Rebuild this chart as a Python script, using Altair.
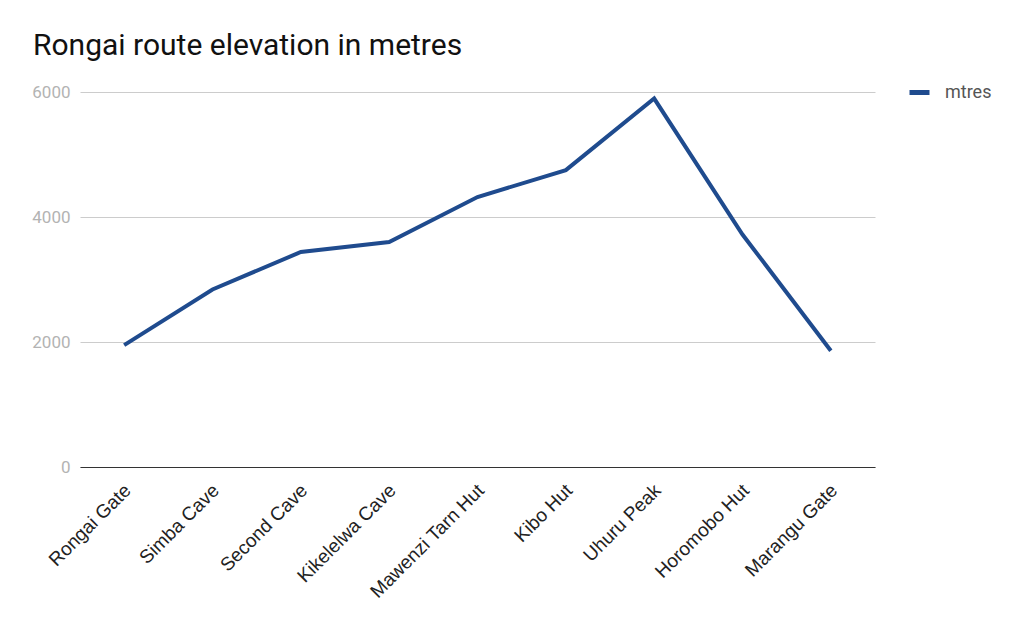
import altair as alt
import pandas as pd

stops = ["Rongai Gate", "Simba Cave", "Second Cave", "Kikelelwa Cave",
         "Mawenzi Tarn Hut", "Kibo Hut", "Uhuru Peak", "Horomobo Hut", "Marangu Gate"]
metres = [1950, 2840, 3440, 3600, 4320, 4750, 5895, 3720, 1860]
series = ["mtres"] * len(stops)

df = pd.DataFrame({"stop": stops, "metres": metres, "series": series})

line = alt.Chart(df).mark_line(strokeWidth=4, strokeCap="butt", strokeJoin="miter").encode(
    x=alt.X("stop:N", sort=stops, title=None,
            scale=alt.Scale(type="point", padding=0.5),
            axis=alt.Axis(labelAngle=-45, labelAlign="right", labelBaseline="middle",
                          labelFont="Liberation Sans", labelFontSize=19, labelColor="#222222",
                          labelPadding=20, labelOffset=3, ticks=False, domain=True,
                          domainColor="#333333", domainWidth=1, grid=False)),
    y=alt.Y("metres:Q", title=None,
            scale=alt.Scale(domain=[0, 6000], nice=False),
            axis=alt.Axis(values=[0, 2000, 4000, 6000], format="d", labelFont="Roboto",
                          labelFontSize=17, labelColor="#b3b3b3", labelPadding=10, ticks=False,
                          domain=False, grid=True, gridColor="#cccccc", gridWidth=1)),
    color=alt.Color("series:N", title=None,
                    scale=alt.Scale(range=["#1f4b8e"]),
                    legend=alt.Legend(orient="none", legendX=827, legendY=-12,
                                      symbolType="stroke", symbolStrokeWidth=5, symbolSize=400,
                                      labelFont="Roboto", labelFontSize=18, labelColor="#555555",
                                      labelOffset=13)),
)

chart = line.properties(
    width=795, height=375,
    padding={"left": 80, "top": 92, "right": 149, "bottom": 165},
    autosize=alt.AutoSizeParams(type="none"),
    background="white",
    title=alt.TitleParams("Rongai route elevation in metres", anchor="start", frame="group",
                          dx=-47, dy=11, offset=6, baseline="alphabetic", font="Roboto",
                          fontSize=30, fontWeight="normal", color="#111111"),
).configure_view(stroke=None)

chart.save("out.html", embed_options={"renderer": "svg", "actions": False})
